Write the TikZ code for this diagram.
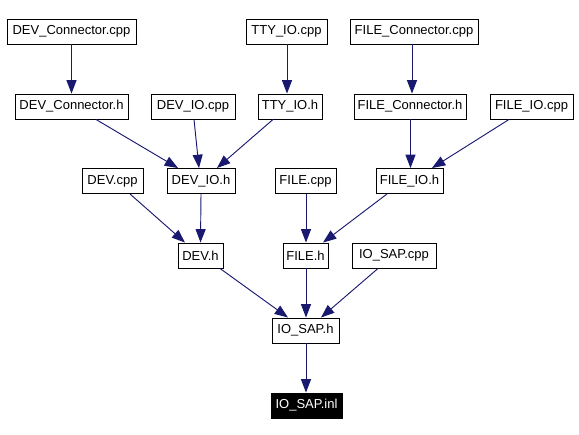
\documentclass[tikz,border=0pt]{standalone}
\usepackage{fontspec}
\setmainfont{Liberation Sans}
\usetikzlibrary{arrows.meta,calc}
\definecolor{edgeblue}{HTML}{191970}
\begin{document}
\begin{tikzpicture}[x=0.75pt,y=-0.75pt,
  box/.style={draw=black,line width=0.7pt,inner sep=0pt,minimum height=18.75pt,
    font=\fontsize{9.75}{11}\selectfont,text=black,fill=white},
  cur/.style={box,fill=black,text=white},
  dep/.style={draw=edgeblue,line width=0.7pt,-{Triangle[length=10pt,width=7.5pt]}}]
\useasboundingbox (0,0) rectangle (579,435);
% row 1
\node[box,minimum width=96.75pt] (dcc) at (71.5,31.5) {DEV\_Connector.cpp};
\node[box,minimum width=60.75pt] (ttyc) at (286.5,31.5) {TTY\_IO.cpp};
\node[box,minimum width=96pt] (fcc) at (414,31.5) {FILE\_Connector.cpp};
% row 2
\node[box,minimum width=84.75pt] (dch) at (71.5,106.5) {DEV\_Connector.h};
\node[box,minimum width=63pt] (dioc) at (193,106.5) {DEV\_IO.cpp};
\node[box,minimum width=48pt] (ttyh) at (290,106.5) {TTY\_IO.h};
\node[box,minimum width=84pt] (fch) at (410,106.5) {FILE\_Connector.h};
\node[box,minimum width=62.25pt] (fioc) at (531.5,106.5) {FILE\_IO.cpp};
% row 3
\node[box,minimum width=45.75pt] (devc) at (112.5,181) {DEV.cpp};
\node[box,minimum width=51pt] (dioh) at (201,181) {DEV\_IO.h};
\node[box,minimum width=45.75pt] (filec) at (305.5,181) {FILE.cpp};
\node[box,minimum width=50.25pt] (fioh) at (409.5,181) {FILE\_IO.h};
% row 4
\node[box,minimum width=33.75pt] (devh) at (200.5,255.5) {DEV.h};
\node[box,minimum width=33.75pt] (fileh) at (305.5,255.5) {FILE.h};
\node[box,minimum width=63pt] (sapc) at (394,255.5) {IO\_SAP.cpp};
% row 5
\node[box,minimum width=50.25pt] (saph) at (305.5,330.5) {IO\_SAP.h};
% row 6
\node[cur,minimum width=53.25pt] (sapi) at (306.5,405.5) {IO\_SAP.inl};
% edges
\draw[dep] (dcc.south) -- (dch.north);
\draw[dep] ($(ttyc.south)+(0.5,0)$) -- ($(ttyh.north)+(-3,0)$);
\draw[dep] ($(fcc.south)+(-2,0)$) -- ($(fch.north)+(2,0)$);
\draw[dep] ($(dch.south)+(24.5,0)$) -- ($(dioh.north)+(-23,0)$);
\draw[dep] ($(dioc.south)+(1,0)$) -- ($(dioh.north)+(-2,0)$);
\draw[dep] ($(ttyh.south)+(-17,0)$) -- ($(dioh.north)+(16,0)$);
\draw[dep] ($(fch.south)+(0.5,0)$) -- ($(fioh.north)+(1,0)$);
\draw[dep] ($(fioc.south)+(-22.5,0)$) -- ($(fioh.north)+(22.5,0)$);
\draw[dep] ($(devc.south)+(17.5,0)$) -- ($(devh.north)+(-15.5,0)$);
\draw[dep] (dioh.south) -- (devh.north);
\draw[dep] ($(filec.south)+(0.5,0)$) -- ($(fileh.north)+(0.5,0)$);
\draw[dep] ($(fioh.south)+(-22.5,0)$) -- ($(fileh.north)+(17.5,0)$);
\draw[dep] ($(devh.south)+(19.5,0)$) -- ($(saph.north)+(-17.5,0)$);
\draw[dep] ($(fileh.south)+(0.5,0)$) -- ($(saph.north)+(0.5,0)$);
\draw[dep] ($(sapc.south)+(-16,0)$) -- ($(saph.north)+(15.5,0)$);
\draw[dep] ($(saph.south)+(0.5,0)$) -- ($(sapi.north)+(-0.5,0)$);
\end{tikzpicture}
\end{document}
